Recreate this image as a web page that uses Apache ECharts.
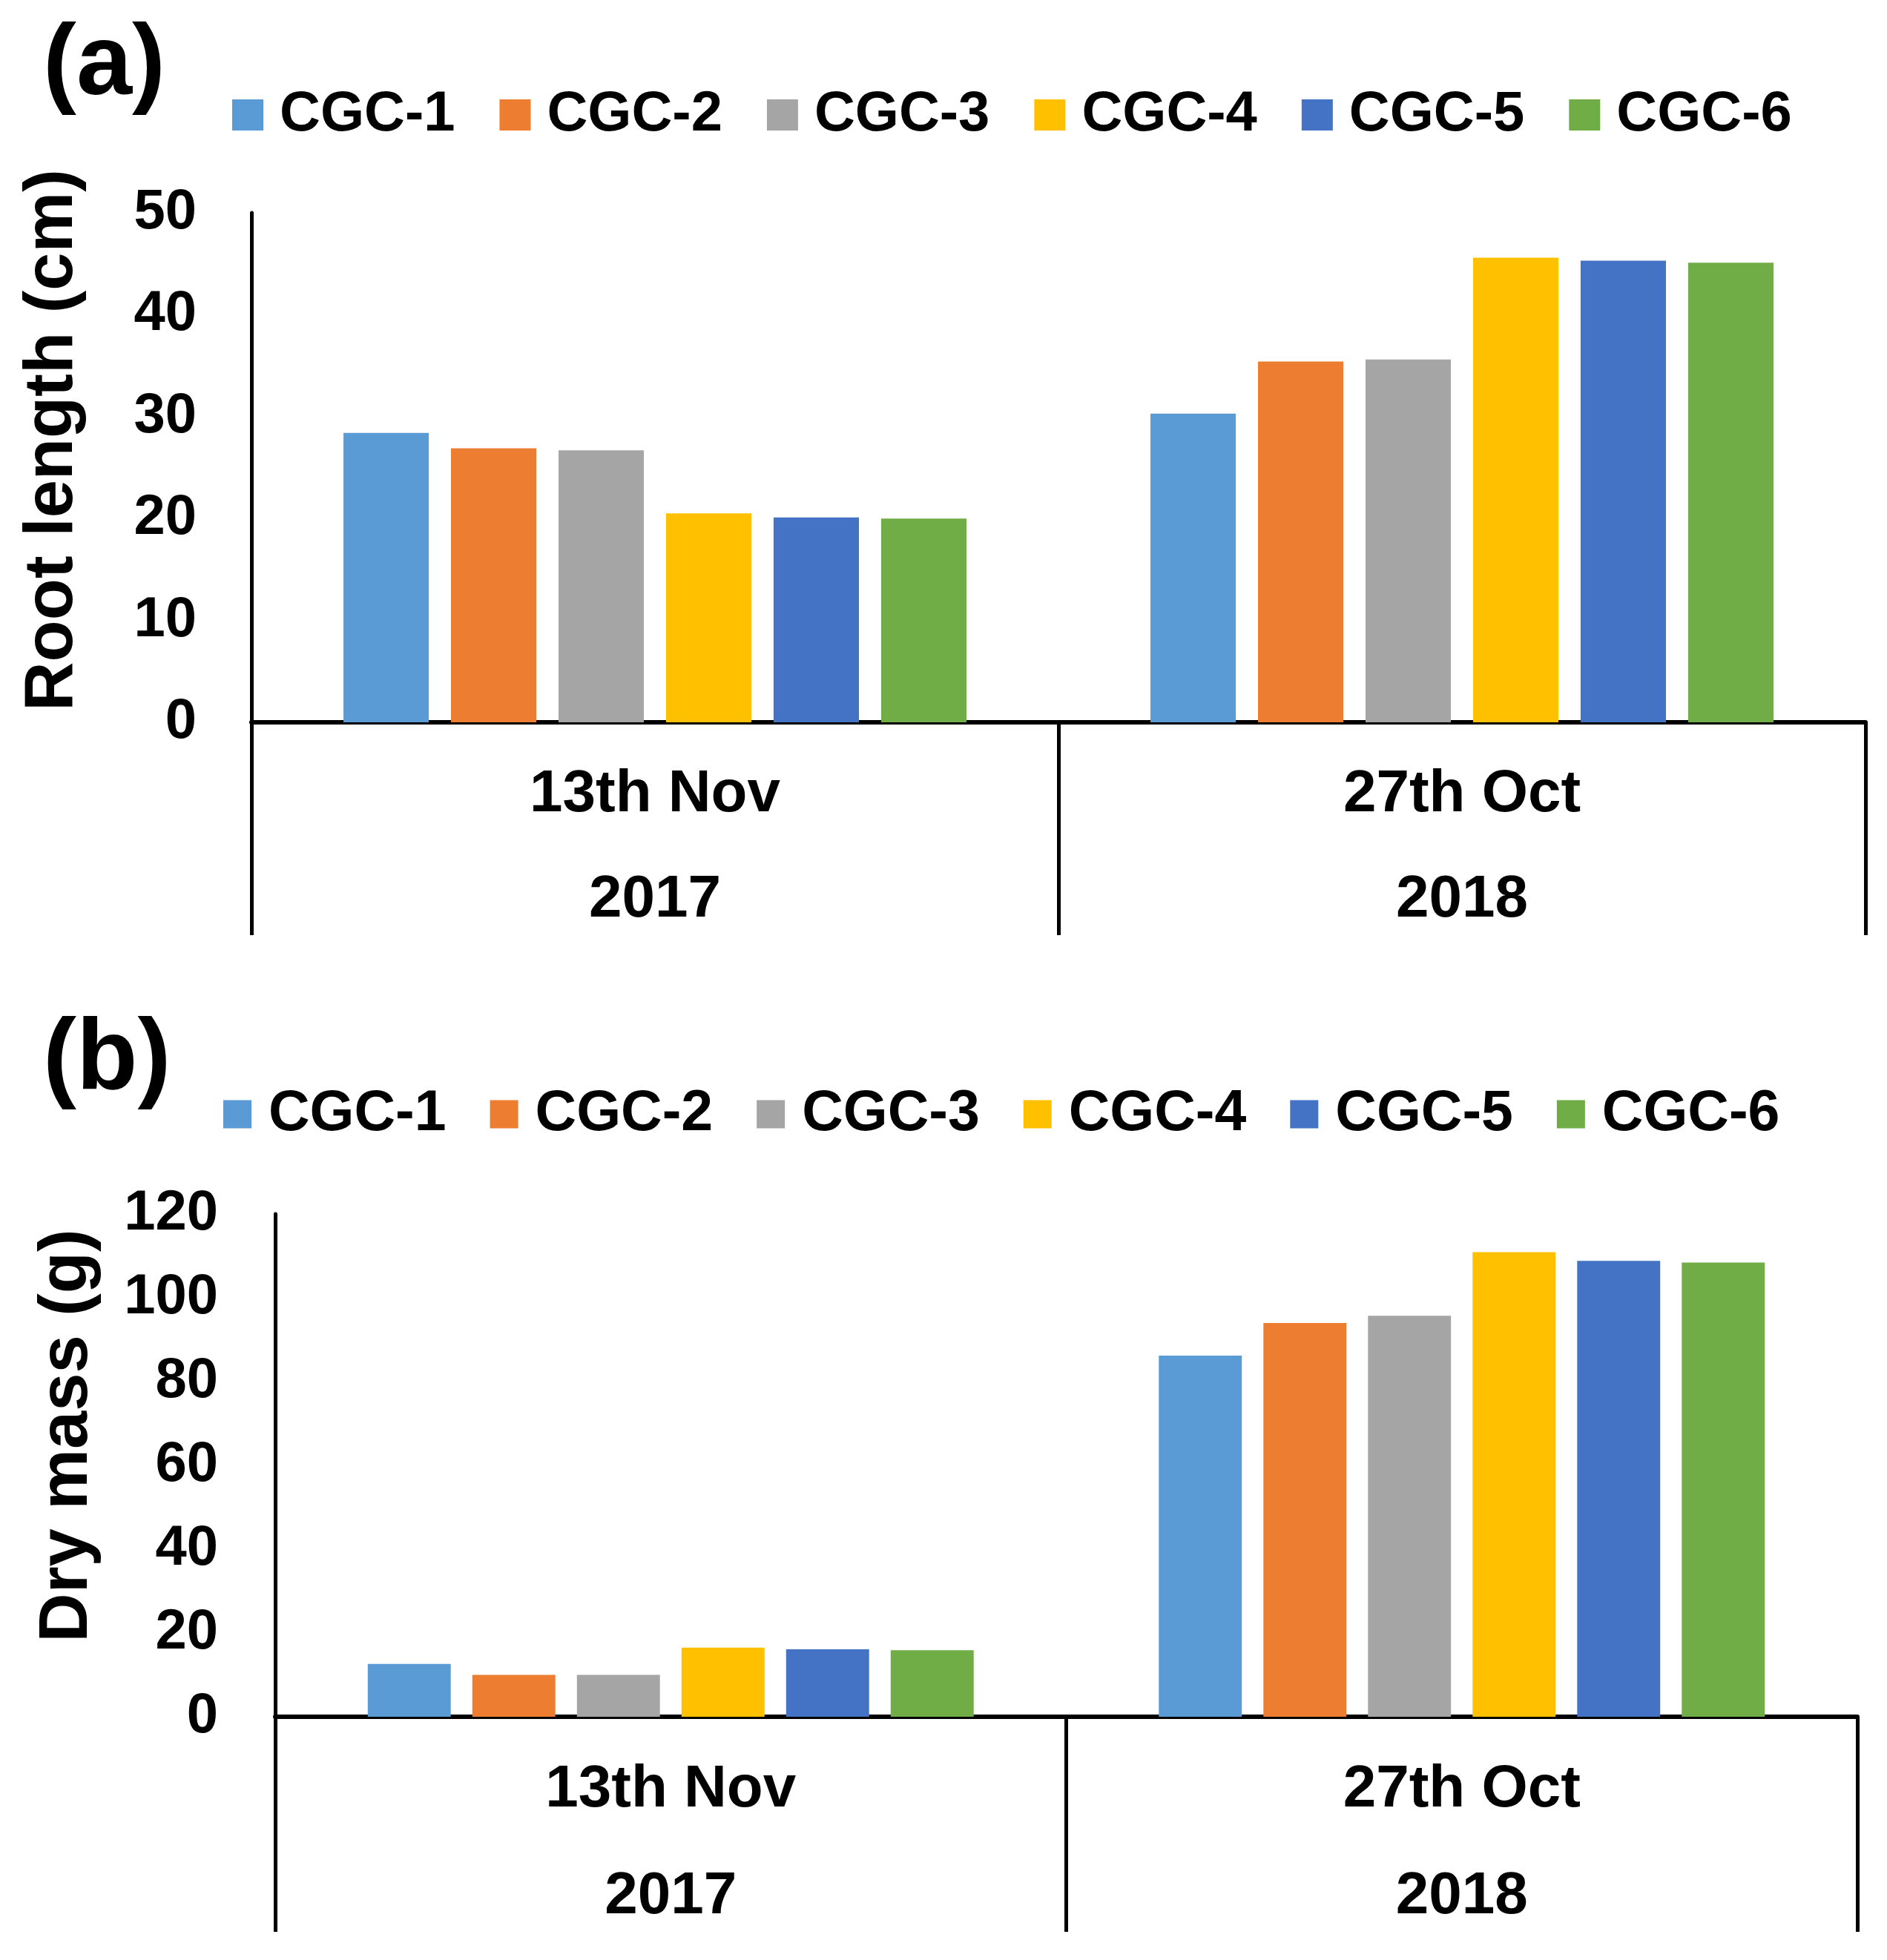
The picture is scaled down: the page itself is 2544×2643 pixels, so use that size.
<!DOCTYPE html>
<html>
<head>
<meta charset="utf-8">
<script src="https://cdn.jsdelivr.net/npm/echarts@6/dist/echarts.min.js"></script>
<style>
  html, body { margin: 0; padding: 0; background: #fff; }
  #chart { width: 2544px; height: 2643px; }
</style>
</head>
<body>
<div id="chart"></div>
<script>
// series / categories
const groups = ['CGC-1', 'CGC-2', 'CGC-3', 'CGC-4', 'CGC-5', 'CGC-6']
const colors = ['#5B9BD5', '#ED7D31', '#A5A5A5', '#FFC000', '#4472C4', '#70AD47']
const dates = ['13th Nov', '27th Oct']
const years = ['2017', '2018']

// (a) root length (cm)
const rootLength2017 = [28.4, 26.9, 26.7, 20.5, 20.1, 20.0]
const rootLength2018 = [30.3, 35.4, 35.6, 45.6, 45.3, 45.1]

// (b) dry mass (g)
const dryMass2017 = [12.6, 10.0, 10.0, 16.5, 16.1, 15.9]
const dryMass2018 = [86.2, 94.0, 95.7, 110.9, 108.8, 108.4]

const FONT = '"Liberation Sans", Arial, sans-serif'
const txt = (size) => ({ fontFamily: FONT, fontWeight: 'bold', fontSize: size, color: '#000' })

// x axes: category row + year row, bottom of each grid
function dateAxis(gridIndex, tickLen, margin) {
  return {
    type: 'category',
    gridIndex,
    position: 'bottom',
    data: dates,
    axisLine: { show: true, lineStyle: { color: '#000', width: 6 } },
    axisTick: { show: true, interval: 0, length: tickLen, lineStyle: { color: '#000', width: 5 } },
    axisLabel: { ...txt(80), interval: 0, margin, verticalAlign: 'middle' },
    splitLine: { show: false }
  }
}
function yearAxis(gridIndex, margin) {
  return {
    type: 'category',
    gridIndex,
    position: 'bottom',
    data: years,
    axisLine: { show: false },
    axisTick: { show: false },
    axisLabel: { ...txt(80), interval: 0, margin, verticalAlign: 'middle' },
    splitLine: { show: false }
  }
}
function valueAxis(gridIndex, max, interval, name, gap, shift, labelMargin) {
  return {
    type: 'value',
    gridIndex,
    min: 0,
    max,
    interval,
    name,
    nameLocation: 'middle',
    nameRotate: 90,
    nameGap: gap,
    nameTextStyle: { ...txt(92), padding: [0, 0, 0, shift] },
    axisLine: { show: true, lineStyle: { color: '#000', width: 5 } },
    axisTick: { show: false },
    splitLine: { show: false },
    axisLabel: { ...txt(76), margin: labelMargin }
  }
}

const seriesA = groups.map((g, i) => ({
  name: g,
  type: 'bar',
  xAxisIndex: 0,
  yAxisIndex: 0,
  data: [rootLength2017[i], rootLength2018[i]],
  itemStyle: { color: colors[i] },
  barGap: '26%',
  barCategoryGap: '22.8%'
}))
const seriesB = groups.map((g, i) => ({
  name: g,
  type: 'bar',
  xAxisIndex: 2,
  yAxisIndex: 1,
  data: [dryMass2017[i], dryMass2018[i]],
  itemStyle: { color: colors[i] },
  barGap: '26%',
  barCategoryGap: '23.4%'
}))

const legendBase = {
  data: groups,
  orient: 'horizontal',
  icon: 'rect',
  padding: 0
}

const chart = echarts.init(document.getElementById('chart'))
chart.setOption({
  animation: false,
  backgroundColor: '#fff',
  color: colors,
  title: [
    { text: '(a)', left: 58, top: 22, padding: 0, textStyle: txt(135) },
    { text: '(b)', left: 58, top: 1363, padding: 0, textStyle: txt(135) }
  ],
  legend: [
    {
      ...legendBase, left: 313, top: 117, itemWidth: 42, itemHeight: 42, itemGap: 60,
      textStyle: { ...txt(76), padding: [0, 0, 0, 17] }
    },
    {
      ...legendBase, left: 301, top: 1464, itemWidth: 38, itemHeight: 38, itemGap: 59,
      textStyle: { ...txt(77), padding: [0, 0, 0, 18] }
    }
  ],
  grid: [
    { left: 339, top: 287, width: 2176, height: 687, containLabel: false },
    { left: 371, top: 1637, width: 2133, height: 678, containLabel: false }
  ],
  xAxis: [
    dateAxis(0, 287, 98),
    yearAxis(0, 240),
    dateAxis(1, 290, 99),
    yearAxis(1, 243)
  ],
  yAxis: [
    valueAxis(0, 50, 10, 'Root length (cm)', 221, 74, 74),
    valueAxis(1, 120, 20, 'Dry mass (g)', 233, 80, 77)
  ],
  series: [...seriesA, ...seriesB]
})
</script>
</body>
</html>
